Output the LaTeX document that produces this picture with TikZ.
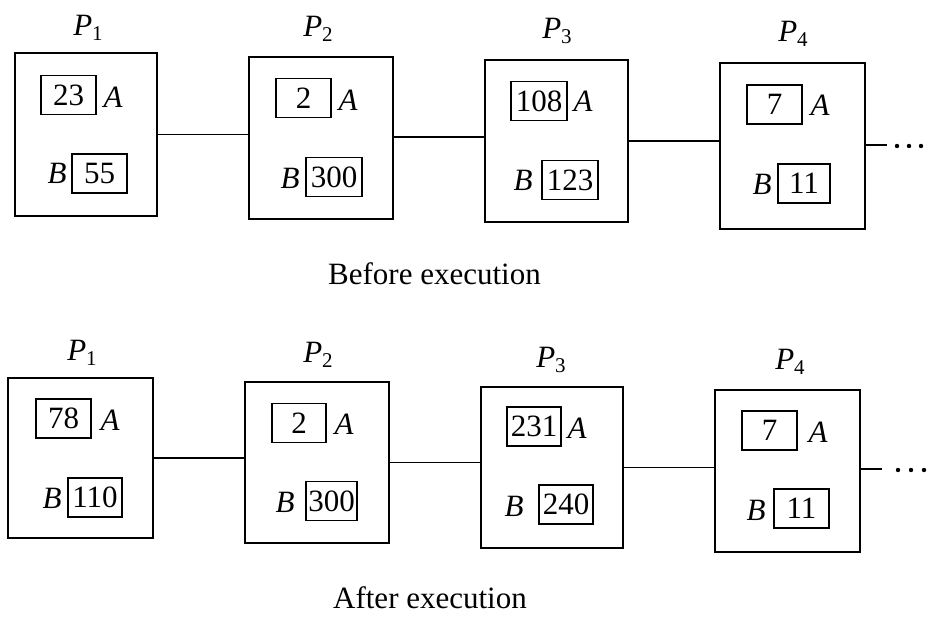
\documentclass[tikz,border=0pt]{standalone}
\usepackage{fontspec}
\setmainfont{Liberation Serif}
\begin{document}
\begin{tikzpicture}[x=1pt,y=-1pt,
  proc/.style={draw,line width=1.8pt,inner sep=0pt},
  val/.style={draw,line width=1.4pt,inner sep=0pt,minimum width=55pt,minimum height=39pt,font=\fontsize{31}{36}\selectfont},
  lbl/.style={inner sep=0pt,font=\fontsize{31}{36}\selectfont\itshape},
  captxt/.style={inner sep=0pt,font=\fontsize{31}{36}\selectfont},
  link/.style={line width=1.8pt},
  dotfill/.style={fill=black}
]
\useasboundingbox (0,0) rectangle (933,617);
\newcommand{\pname}[1]{\textit{P}\raisebox{-0.4ex}{\fontsize{21}{21}\selectfont\upshape #1}}

% ---------- Before execution ----------
\node[proc,minimum width=142pt,minimum height=163pt] (tp1) at (86,134.5) {};
\node[proc,minimum width=144pt,minimum height=162pt] (tp2) at (321,138) {};
\node[proc,minimum width=143pt,minimum height=162pt] (tp3) at (556.5,141) {};
\node[proc,minimum width=145pt,minimum height=166pt] (tp4) at (792.5,146) {};

\node[captxt] (tl1) at (88,28) {\pname{1}};
\node[captxt] (tl2) at (318,29) {\pname{2}};
\node[captxt] (tl3) at (557,31) {\pname{3}};
\node[captxt] (tl4) at (793,34) {\pname{4}};

\node[val] (ta1) at (68.5,95) {23};
\node[lbl] (tA1) at (113,97) {A};
\node[lbl] (tB1) at (57,173) {B};
\node[val] (tb1) at (99.5,173.5) {55};

\node[val] (ta2) at (303.5,98) {2};
\node[lbl] (tA2) at (348,100) {A};
\node[lbl] (tB2) at (290,178) {B};
\node[val,minimum width=56pt] (tb2) at (334,177) {300};

\node[val,minimum width=56pt] (ta3) at (539,101) {108};
\node[lbl] (tA3) at (583,101) {A};
\node[lbl] (tB3) at (523,180) {B};
\node[val,minimum width=56pt] (tb3) at (570,180) {123};

\node[val] (ta4) at (774.5,104.5) {7};
\node[lbl] (tA4) at (820,105) {A};
\node[lbl] (tB4) at (762,184) {B};
\node[val,minimum width=52pt] (tb4) at (804,183.5) {11};

\draw[link] (tp1.east) -- (tp1.east -| tp2.west);
\draw[link] ([yshift=1pt]tp2.east) -- ([yshift=1pt]tp2.east -| tp3.west);
\draw[link] (tp3.east) -- (tp3.east -| tp4.west);
\coordinate (tend) at (887,145);
\draw[link] (tp4.east |- tend) -- (tend);
\fill[dotfill] (897,146) circle (2.2pt) (909,146) circle (2.2pt) (921,146) circle (2.2pt);

\node[captxt] (tcap) at (434.5,274) {Before execution};

% ---------- After execution ----------
\node[proc,minimum width=145pt,minimum height=160pt] (bp1) at (80.5,458) {};
\node[proc,minimum width=144pt,minimum height=161pt] (bp2) at (317,462.5) {};
\node[proc,minimum width=142pt,minimum height=161pt] (bp3) at (552,467.5) {};
\node[proc,minimum width=145pt,minimum height=162pt] (bp4) at (787.5,471) {};

\node[captxt] (bl1) at (82,353) {\pname{1}};
\node[captxt] (bl2) at (318,355) {\pname{2}};
\node[captxt] (bl3) at (551,360) {\pname{3}};
\node[captxt] (bl4) at (790,362) {\pname{4}};

\node[val] (ba1) at (63.5,418.5) {78};
\node[lbl] (bA1) at (110,420) {A};
\node[lbl] (bB1) at (52,498) {B};
\node[val,minimum width=54pt] (bb1) at (95,497.5) {110};

\node[val,minimum width=54pt] (ba2) at (299,423) {2};
\node[lbl] (bA2) at (344,424) {A};
\node[lbl] (bB2) at (285,502) {B};
\node[val,minimum width=51pt] (bb2) at (331.5,501) {300};

\node[val,minimum width=54pt] (ba3) at (534,426.5) {231};
\node[lbl] (bA3) at (577,428) {A};
\node[lbl] (bB3) at (514,506) {B};
\node[val,minimum width=54pt] (bb3) at (566,504.5) {240};

\node[val] (ba4) at (769.5,430.5) {7};
\node[lbl] (bA4) at (818,432) {A};
\node[lbl] (bB4) at (756,510) {B};
\node[val] (bb4) at (801.5,508.5) {11};

\draw[link] (bp1.east) -- (bp1.east -| bp2.west);
\draw[link] (bp2.east) -- (bp2.east -| bp3.west);
\draw[link] (bp3.east) -- (bp3.east -| bp4.west);
\coordinate (bend) at (882,469);
\draw[link] (bp4.east |- bend) -- (bend);
\fill[dotfill] (898,470) circle (2.2pt) (911,470) circle (2.2pt) (924,470) circle (2.2pt);

\node[captxt] (bcap) at (430,598) {After execution};
\end{tikzpicture}
\end{document}
